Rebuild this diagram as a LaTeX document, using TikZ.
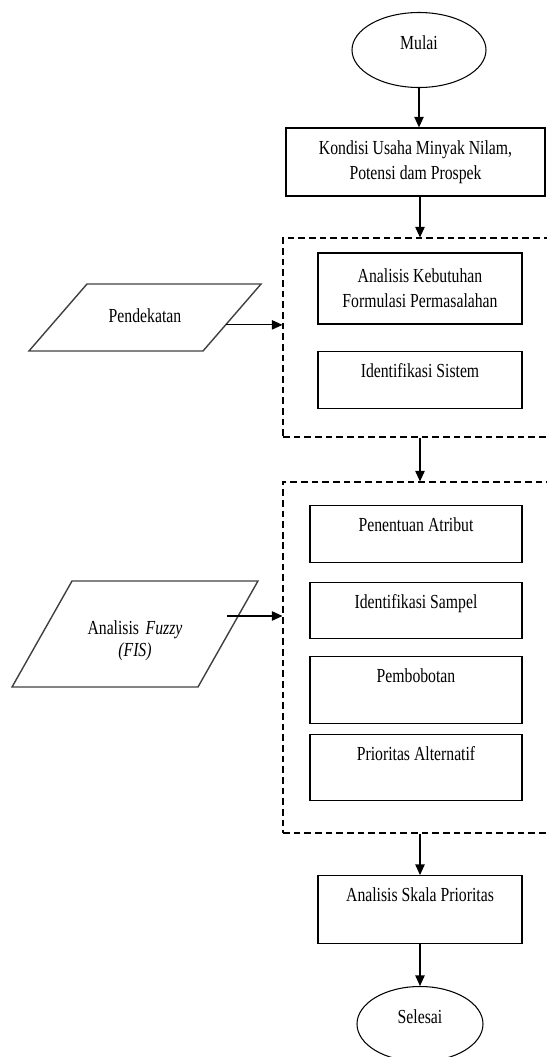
\documentclass[tikz,border=0pt]{standalone}
\usepackage{fontspec}
\setmainfont[FakeStretch=0.79]{Liberation Serif}
\usetikzlibrary{shapes.geometric, arrows.meta, positioning, calc}

\tikzset{
  teks/.style={font=\fontsize{17}{21.3}\selectfont},
  terminal/.style={teks, draw, ellipse, line width=0.9pt, minimum width=4.02cm, minimum height=2.25cm, inner sep=0pt, text height=0.39cm, text depth=0.45cm},
  kotak/.style={teks, draw, rectangle, line width=1.1pt, align=center, inner sep=0pt, anchor=north, text height=0.78cm},
  kotakdua/.style={teks, draw, rectangle, line width=1.1pt, align=center, inner sep=0pt},
  masukan/.style={teks, draw=black!75, trapezium, line width=1.2pt, align=center, inner xsep=0pt, outer sep=0pt},
  grup/.style={draw, dash pattern=on 5.7pt off 3.4pt, line width=0.9pt, inner sep=0pt},
  panah/.style={-{Triangle[length=9pt,width=8pt]}, line width=1pt}
}

\begin{document}
\begin{tikzpicture}[x=0.03cm, y=-0.03cm]
  \useasboundingbox (0,0) rectangle (546,1057);

  % Terminal
  \node[terminal] (mulai) at (419,50) {Mulai};
  \node[terminal, minimum width=3.78cm] (selesai) at (420,1024) {Selesai};

  % Kondisi awal
  \node[kotakdua, minimum width=7.77cm, minimum height=2.04cm] (kondisi) at (415.5,162) {Kondisi Usaha Minyak Nilam,\\Potensi dam Prospek};

  % Kelompok (garis putus)
  \node[grup, minimum width=8.22cm, minimum height=5.97cm] (grupA) at (420,337.5) {};
  \node[grup, minimum width=8.22cm, minimum height=10.53cm] (grupB) at (420,657.5) {};

  % Isi kelompok A
  \node[kotakdua, minimum width=6.12cm, minimum height=2.13cm] (kebutuhan) at (420,288.5) {Analisis Kebutuhan\\Formulasi Permasalahan};
  \node[kotak, minimum width=6.12cm, text depth=0.93cm] (sistem) at (420,351) {Identifikasi Sistem};

  % Isi kelompok B
  \node[kotak, minimum width=6.36cm, text depth=0.93cm] (atribut) at (416,505) {Penentuan Atribut};
  \node[kotak, minimum width=6.36cm, text depth=0.90cm] (sampel) at (416,582) {Identifikasi Sampel};
  \node[kotak, minimum width=6.36cm, text depth=1.23cm] (bobot) at (416,656) {Pembobotan};
  \node[kotak, minimum width=6.36cm, text depth=1.20cm] (alternatif) at (416,734) {Prioritas Alternatif};

  % Analisis akhir
  \node[kotak, minimum width=6.12cm, text depth=1.26cm] (skala) at (420,875) {Analisis Skala Prioritas};

  % Masukan
  \node[masukan, trapezium left angle=49.1, trapezium right angle=130.9, text width=3.48cm, inner ysep=0pt, text height=1.155cm, text depth=0.855cm] (pendekatan) at (145,317.5) {Pendekatan};
  \node[masukan, trapezium left angle=60.5, trapezium right angle=119.5, text width=3.78cm, inner ysep=0.78cm] (fuzzy) at (135,634) {\rule{0pt}{0.83cm}Analisis \textit{Fuzzy}\\[-2.5pt]\textit{(FIS)}};

  % Panah
  \coordinate (pA) at ($(pendekatan.top right corner)!0.61!(pendekatan.bottom right corner)$);
  \coordinate (pB) at ($(fuzzy.top right corner)!0.33!(fuzzy.bottom right corner)+(-11,0)$);
  \draw[panah] (mulai.south) -- (mulai.south |- kondisi.north);
  \draw[panah] (kondisi.south -| grupA.north) -- (grupA.north);
  \draw[panah] (grupA.south) -- (grupB.north);
  \draw[panah] (grupB.south) -- (skala.north);
  \draw[panah] (skala.south) -- (selesai.north);
  \draw[panah] (pA) -- (pA -| grupA.west);
  \draw[panah] (pB) -- (pB -| grupB.west);
\end{tikzpicture}
\end{document}
